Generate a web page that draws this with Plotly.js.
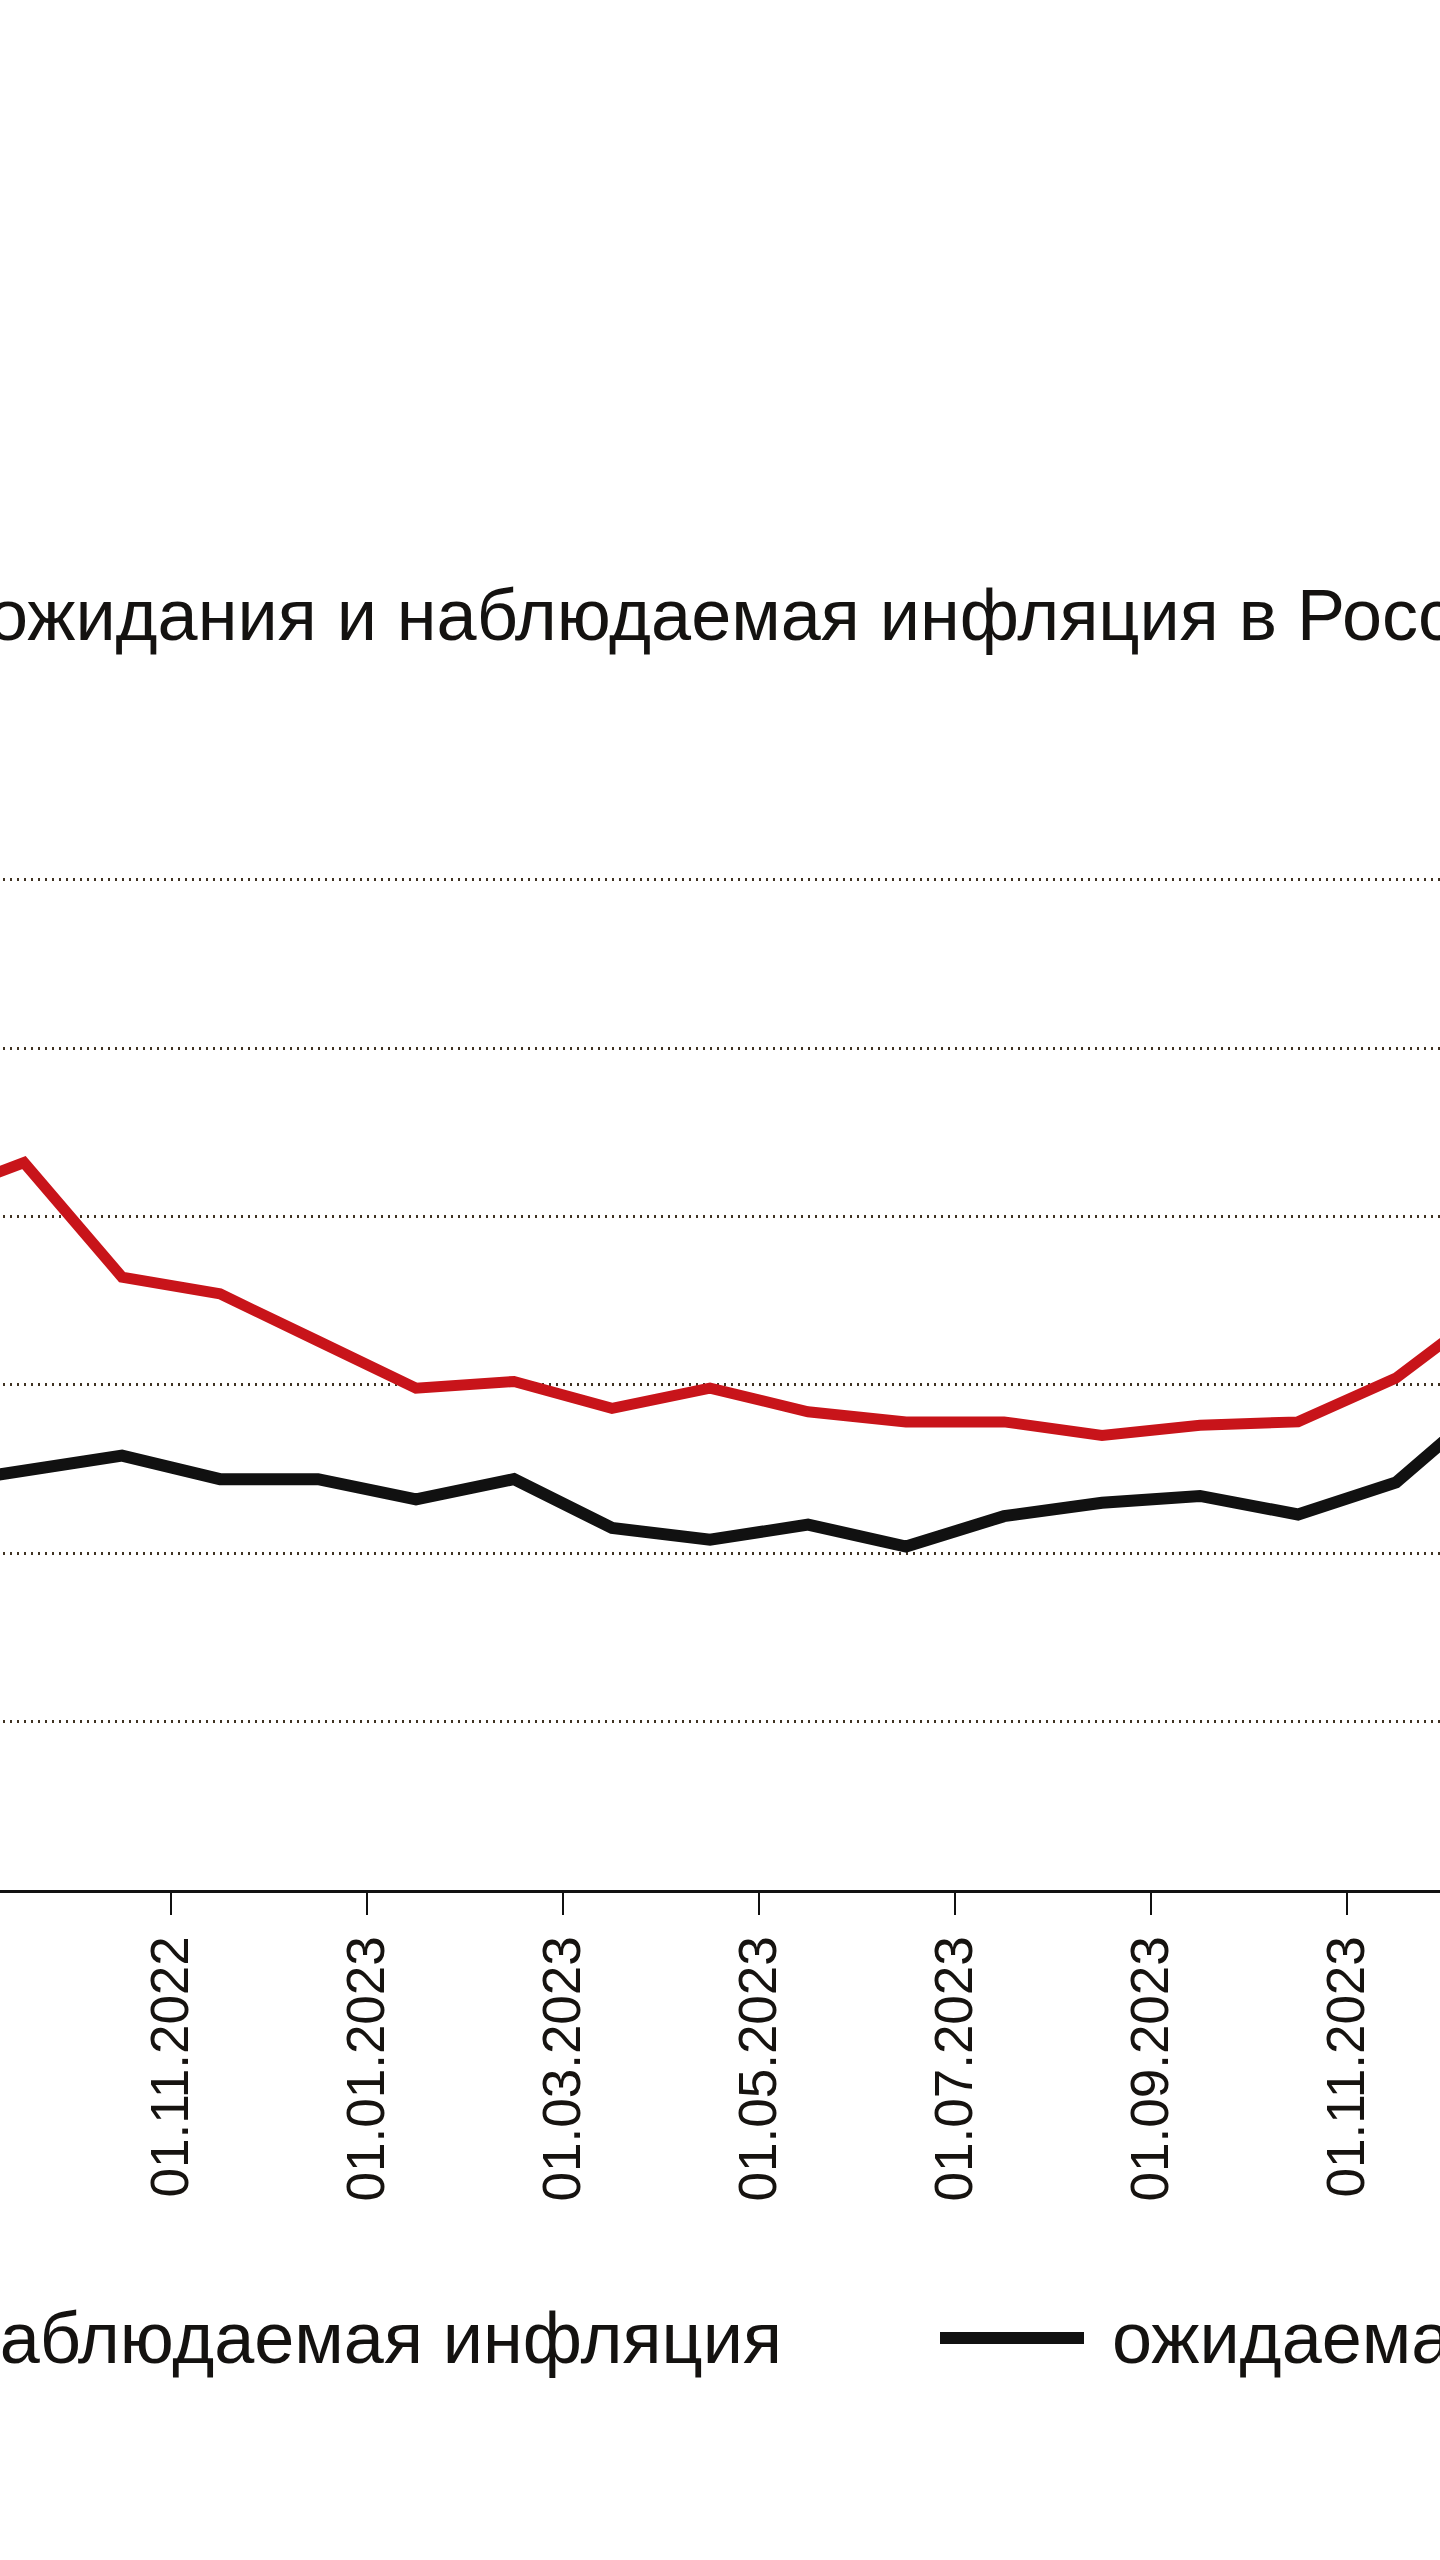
<!DOCTYPE html>
<html>
<head>
<meta charset="utf-8">
<script src="https://cdn.plot.ly/plotly-3.0.1.min.js"></script>
<style>
  html, body { margin: 0; padding: 0; background: #ffffff; }
  body { width: 1440px; height: 2560px; overflow: hidden; position: relative; }
  #chart { position: absolute; left: -800px; top: 0; width: 3040px; height: 2560px; }
</style>
</head>
<body>
<div id="chart"></div>
<script>
// Months (mid-month observations), Aug 2022 .. Dec 2023
const months = ['2022-08','2022-09','2022-10','2022-11','2022-12',
                '2023-01','2023-02','2023-03','2023-04','2023-05','2023-06',
                '2023-07','2023-08','2023-09','2023-10','2023-11','2023-12'];

// Observed inflation, % (red)
const observed = [20.5, 21.6, 18.2, 17.7, 16.3,
                  14.9, 15.1, 14.3, 14.9, 14.2, 13.9,
                  13.9, 13.5, 13.8, 13.9, 15.2, 17.4];

// Expected inflation, % (black)
const expected = [12.0, 12.45, 12.9, 12.2, 12.2,
                  11.6, 12.2, 10.75, 10.4, 10.85, 10.2,
                  11.1, 11.5, 11.7, 11.15, 12.1, 14.6];

// Tick labels (first day of every second month)
const tickLabels = ['01.11.2022','01.01.2023','01.03.2023','01.05.2023',
                    '01.07.2023','01.09.2023','01.11.2023'];
const tickMonths = ['2022-11','2023-01','2023-03','2023-05','2023-07','2023-09','2023-11'];

const titleLead = 'Инфляционные ';
const titleText = 'Инфляционные ожидания и наблюдаемая инфляция в России';
const nameObserved = 'наблюдаемая инфляция';
const nameExpected = 'ожидаемая инфляция';

const yTicks = [5, 10, 15, 20, 25, 30];

// x positions: month index; tick sits at the boundary before the month
const xIdx = months.map((m, i) => i);
const tickVals = tickMonths.map(m => months.indexOf(m) - 0.5);

const FONT = 'Liberation Sans, Arial, sans-serif';
const RED = '#c8141a';
const BLACK = '#111111';
const TEXT = '#141210';

// page-to-paper helpers (plot area spans page x -200..1640, page y 846..1890)
const plotL = -200, plotW = 1840, plotB = 1890, plotH = 1044;
const px = p => (p - plotL) / plotW;
const py = p => (plotB - p) / plotH;

// measure the leading word so that "ожидания" starts just left of the page edge
const cv = document.createElement('canvas').getContext('2d');
cv.font = '72px "Liberation Sans"';
const leadW = cv.measureText(titleLead).width;
const titleStart = -14 - leadW;

const traces = [
  { x: xIdx, y: observed, type: 'scatter', mode: 'lines', name: nameObserved,
    text: months, line: { color: RED, width: 11 } },
  { x: xIdx, y: expected, type: 'scatter', mode: 'lines', name: nameExpected,
    text: months, line: { color: BLACK, width: 12 } }
];

const legendY = 2338;
const layout = {
  width: 3040, height: 2560,
  paper_bgcolor: '#ffffff', plot_bgcolor: '#ffffff',
  margin: { l: 600, r: 600, t: 846, b: 670, pad: 0 },
  showlegend: false,
  xaxis: {
    range: [(-200 + 74) / 98, (1640 + 74) / 98],
    tickmode: 'array', tickvals: tickVals, ticktext: tickLabels,
    tickangle: -90,
    ticks: 'outside', ticklen: 22, tickwidth: 2.5, tickcolor: BLACK,
    tickfont: { family: FONT, size: 53, color: '#161310' },
    showline: true, linecolor: BLACK, linewidth: 3,
    showgrid: false, zeroline: false, fixedrange: true
  },
  yaxis: {
    range: [0, 31],
    tickmode: 'array', tickvals: yTicks,
    showgrid: true, gridcolor: '#3f3222', gridwidth: 3, griddash: '2px,5px',
    zeroline: false, showline: false, ticks: '', showticklabels: false,
    fixedrange: true
  },
  shapes: [
    { type: 'line', xref: 'paper', yref: 'paper',
      x0: px(-207), x1: px(-63), y0: py(legendY), y1: py(legendY),
      line: { color: RED, width: 12 } },
    { type: 'line', xref: 'paper', yref: 'paper',
      x0: px(940), x1: px(1084), y0: py(legendY), y1: py(legendY),
      line: { color: BLACK, width: 12 } }
  ],
  annotations: [
    { text: titleText, xref: 'paper', yref: 'paper',
      x: px(titleStart), xanchor: 'left', y: py(615), yanchor: 'middle',
      showarrow: false, font: { family: FONT, size: 72, color: TEXT } },
    { text: nameObserved, xref: 'paper', yref: 'paper',
      x: px(784), xanchor: 'right', y: py(legendY), yanchor: 'middle',
      showarrow: false, font: { family: FONT, size: 72, color: TEXT } },
    { text: nameExpected, xref: 'paper', yref: 'paper',
      x: px(1110), xanchor: 'left', y: py(legendY), yanchor: 'middle',
      showarrow: false, font: { family: FONT, size: 72, color: TEXT } }
  ]
};

Plotly.newPlot('chart', traces, layout, { displayModeBar: false, staticPlot: true });
</script>
</body>
</html>
